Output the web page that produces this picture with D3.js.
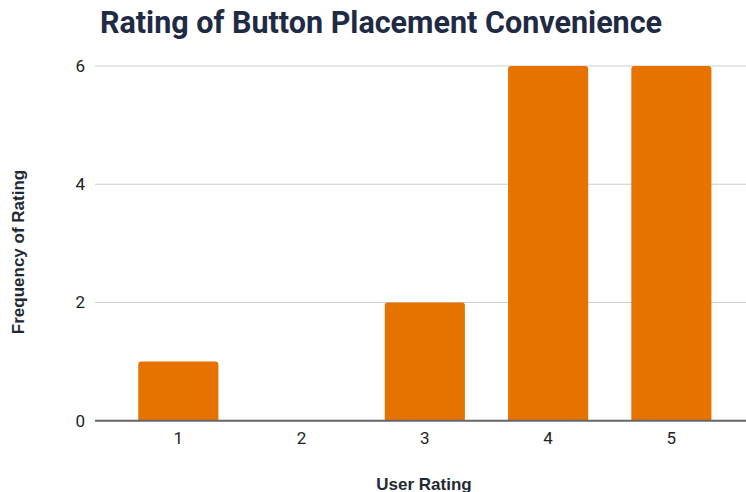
<!DOCTYPE html>
<html>
<head>
<meta charset="utf-8">
<script src="https://cdn.jsdelivr.net/npm/d3@7"></script>
<style>
  body { margin: 0; background: #fff; }
  text { font-family: Roboto, sans-serif; }
</style>
</head>
<body>
<svg id="chart" width="746" height="492"></svg>
<script>
const ratings = ["1", "2", "3", "4", "5"];
const counts = [1, 0, 2, 6, 6];
const yTicks = [0, 2, 4, 6];

const svg = d3.select("#chart");

// Title
svg.append("text")
  .attr("x", 381)
  .attr("y", 33)
  .attr("text-anchor", "middle")
  .style("font-size", "30.5px")
  .style("font-weight", "bold")
  .style("fill", "#1f2a44")
  .text("Rating of Button Placement Convenience");

const x = d3.scaleBand()
  .domain(ratings)
  .range([116.7, 733])
  .paddingInner(0.35)
  .paddingOuter(0.175);

const y = d3.scaleLinear()
  .domain([0, 6])
  .range([420.7, 66]);

// gridlines
svg.append("g")
  .selectAll("line")
  .data(yTicks.filter(d => d !== 0))
  .enter()
  .append("line")
  .attr("x1", 95)
  .attr("x2", 746)
  .attr("y1", d => y(d))
  .attr("y2", d => y(d))
  .attr("stroke", "#cccccc")
  .attr("stroke-width", 1);

// y tick labels
svg.append("g")
  .selectAll("text")
  .data(yTicks)
  .enter()
  .append("text")
  .attr("x", 85)
  .attr("y", d => y(d))
  .attr("dy", "0.35em")
  .attr("text-anchor", "end")
  .style("font-size", "17px")
  .style("fill", "#222")
  .text(d => d);

// bars with rounded tops
const r = 3;
svg.append("g")
  .selectAll("path")
  .data(ratings.map((k, i) => ({ k, v: counts[i] })).filter(d => d.v > 0))
  .enter()
  .append("path")
  .attr("fill", "#e67300")
  .attr("d", d => {
    const x0 = x(d.k), x1 = x0 + x.bandwidth();
    const y0 = y(0), y1 = y(d.v);
    return `M${x0},${y0}V${y1 + r}Q${x0},${y1} ${x0 + r},${y1}H${x1 - r}Q${x1},${y1} ${x1},${y1 + r}V${y0}Z`;
  });

// baseline
svg.append("line")
  .attr("x1", 95)
  .attr("x2", 746)
  .attr("y1", y(0))
  .attr("y2", y(0))
  .attr("stroke", "#666")
  .attr("stroke-width", 2);

// x tick labels
svg.append("g")
  .selectAll("text")
  .data(ratings)
  .enter()
  .append("text")
  .attr("x", d => x(d) + x.bandwidth() / 2)
  .attr("y", 444)
  .attr("text-anchor", "middle")
  .style("font-size", "17px")
  .style("fill", "#222")
  .text(d => d);

// axis titles
svg.append("text")
  .attr("x", 424)
  .attr("y", 490)
  .attr("text-anchor", "middle")
  .style("font-size", "17px")
  .style("font-weight", "bold")
  .style("font-family", "'Liberation Sans', Arial, sans-serif")
  .style("fill", "#1f2a33")
  .text("User Rating");

svg.append("text")
  .attr("transform", "translate(24,252) rotate(-90)")
  .attr("text-anchor", "middle")
  .style("font-size", "17px")
  .style("font-weight", "bold")
  .style("font-family", "'Liberation Sans', Arial, sans-serif")
  .style("fill", "#1f2a33")
  .text("Frequency of Rating");
</script>
</body>
</html>
